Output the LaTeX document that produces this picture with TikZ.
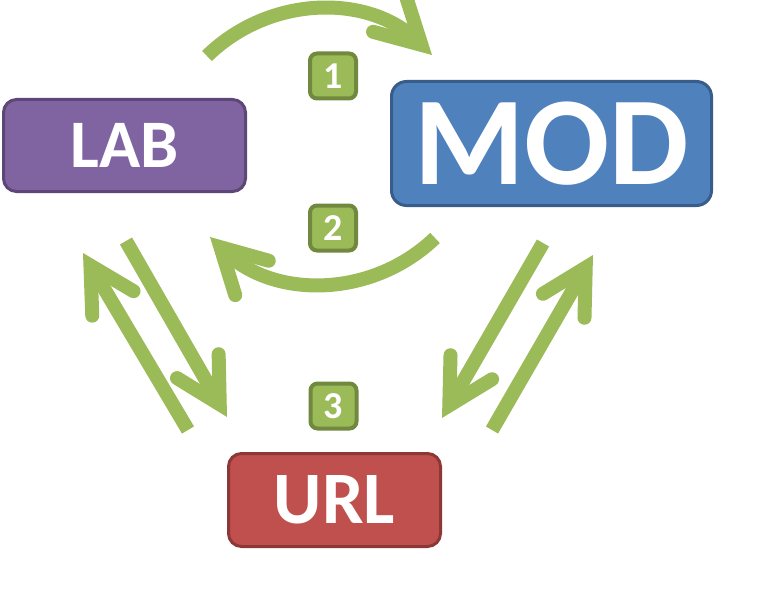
\documentclass[tikz,border=0pt]{standalone}
\usepackage{fontspec}
\setmainfont{Carlito}
\usepackage{tikz}
\usetikzlibrary{arrows.meta, positioning}
\definecolor{labfill}{RGB}{128,100,162}
\definecolor{labline}{RGB}{92,71,118}
\definecolor{modfill}{RGB}{79,129,189}
\definecolor{modline}{RGB}{56,93,138}
\definecolor{urlfill}{RGB}{192,80,77}
\definecolor{urlline}{RGB}{140,56,54}
\definecolor{arrgreen}{RGB}{155,187,89}
\definecolor{badgeline}{RGB}{113,137,63}
\tikzset{
  box/.style={rectangle, line width=3pt, text=white, inner sep=0pt},
  labbox/.style={box, draw=labline, fill=labfill, rounded corners=13pt, minimum width=242pt, minimum height=92pt, font=\fontsize{68}{68}\selectfont\bfseries},
  modbox/.style={box, draw=modline, fill=modfill, rounded corners=15pt, minimum width=320pt, minimum height=124pt, font=\fontsize{126}{126}\selectfont\bfseries},
  urlbox/.style={box, draw=urlline, fill=urlfill, rounded corners=13pt, minimum width=212pt, minimum height=93pt, font=\fontsize{74}{74}\selectfont\bfseries},
  badge/.style={rectangle, draw=badgeline, fill=arrgreen, line width=4pt, rounded corners=7pt, minimum width=46pt, minimum height=45pt, inner sep=0pt, text=white, font=\fontsize{38}{38}\selectfont\bfseries},
  flow/.style={draw=arrgreen, line width=14pt, -{Straight Barb[length=44pt, width=48pt, line cap=round, line join=miter]}}
}

\begin{document}
\begin{tikzpicture}[x=1pt, y=-1pt]
  \useasboundingbox[fill=white] (0,0) rectangle (763,591);

  % Boxes
  \node[labbox] (lab) at (124.5,145.5) {LAB};
  \node[modbox] (mod) at (551.5,143.5) {MOD};
  \node[urlbox] (url) at (334.5,500) {URL};

  % Step badges
  \node[badge] (one) at (333,76) {1};
  \node[badge] (two) at (333,228) {2};
  \node[badge] (three) at (333.5,406) {3};

  % Arrow ends
  \coordinate (toptail) at (207,56);
  \coordinate (toptip) at (432,55);
  \coordinate (midtail) at (435,238);
  \coordinate (midtip) at (210,237);
  \coordinate (labdowntail) at (126,241);
  \coordinate (labdowntip) at (227,417);
  \coordinate (labuptail) at (188,430);
  \coordinate (labuptip) at (83,253);
  \coordinate (moddowntail) at (543,243);
  \coordinate (moddowntip) at (442,418);
  \coordinate (moduptail) at (492,430);
  \coordinate (moduptip) at (593,255);

  % LAB <-> MOD
  \draw[flow] (toptail) to[bend left=44] (toptip);
  \draw[flow] (midtail) to[bend left=44] (midtip);

  % LAB <-> URL
  \draw[flow] (labdowntail) -- (labdowntip);
  \draw[flow] (labuptail) -- (labuptip);

  % MOD <-> URL
  \draw[flow] (moddowntail) -- (moddowntip);
  \draw[flow] (moduptail) -- (moduptip);
\end{tikzpicture}
\end{document}
